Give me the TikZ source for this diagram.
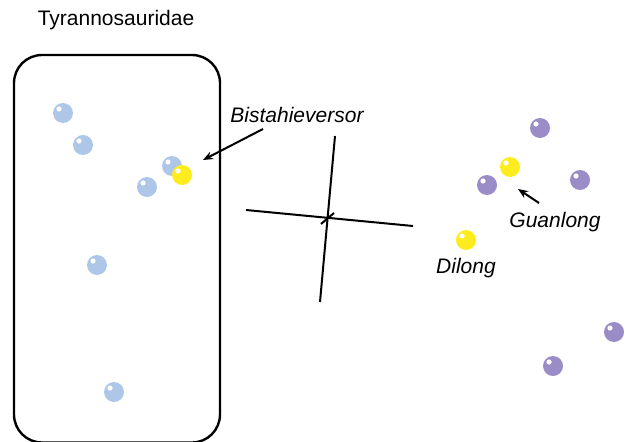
\documentclass[tikz,border=0pt]{standalone}
\usepackage{fontspec}
\setmainfont{Liberation Sans}
\usetikzlibrary{arrows.meta}
\definecolor{tblue}{RGB}{174,199,232}
\definecolor{tyellow}{RGB}{255,236,30}
\definecolor{tpurple}{RGB}{154,140,198}
\tikzset{
  dot/.style={circle,fill=#1,inner sep=0pt,minimum size=20pt,
    path picture={\fill[white] ([xshift=-4pt,yshift=4pt]path picture bounding box.center) circle (2.6pt);}},
  lab/.style={font=\fontsize{21}{25}\selectfont\itshape,inner sep=0pt},
  axis/.style={line width=2pt},
  pointer/.style={line width=2pt,-{Stealth[length=10pt,width=8pt]}}
}
\begin{document}
\begin{tikzpicture}[x=1pt,y=-1pt]
\useasboundingbox (0,0) rectangle (628,441);
\clip (0,0) rectangle (628,441);
\node[font=\fontsize{21}{25}\selectfont,inner sep=0pt] (title) at (116,20) {Tyrannosauridae};
\draw[line width=2.4pt,rounded corners=28pt] (14,55) rectangle (220,442.5);
% blue
\node[dot=tblue] (b1) at (63,113) {};
\node[dot=tblue] (b2) at (83,145) {};
\node[dot=tblue] (b3) at (172,166) {};
\node[dot=tblue] (b4) at (147,187) {};
\node[dot=tblue] (b5) at (97,265) {};
\node[dot=tblue] (b6) at (114,392) {};
% yellow
\node[dot=tyellow] (y1) at (182,175) {};
\node[dot=tyellow] (y2) at (510,167) {};
\node[dot=tyellow] (y3) at (466,240) {};
% purple
\node[dot=tpurple] (p1) at (540,128) {};
\node[dot=tpurple] (p2) at (487,185) {};
\node[dot=tpurple] (p3) at (580,180) {};
\node[dot=tpurple] (p4) at (614,332) {};
\node[dot=tpurple] (p5) at (553,366) {};
% axes
\coordinate (hl) at (246,210);
\coordinate (hr) at (413,226);
\coordinate (vt) at (335,136);
\coordinate (vb) at (320,302);
\draw[axis] (hl) -- (hr);
\draw[axis] (vt) -- (vb);
\coordinate (t1) at (321,224);
\coordinate (t2) at (334,213);
\draw[line width=2pt] (t1) -- (t2);
% labels
\node[lab] (lbis) at (297,115) {Bistahieversor};
\node[lab] (lguan) at (555,222) {Guanlong};
\node[lab] (ldil) at (466,268) {Dilong};
\coordinate (a1s) at (263,129);
\coordinate (a1e) at (203,160);
\draw[pointer] (a1s) -- (a1e);
\coordinate (a2s) at (539,203);
\coordinate (a2e) at (518,189);
\draw[pointer] (a2s) -- (a2e);
\end{tikzpicture}
\end{document}
